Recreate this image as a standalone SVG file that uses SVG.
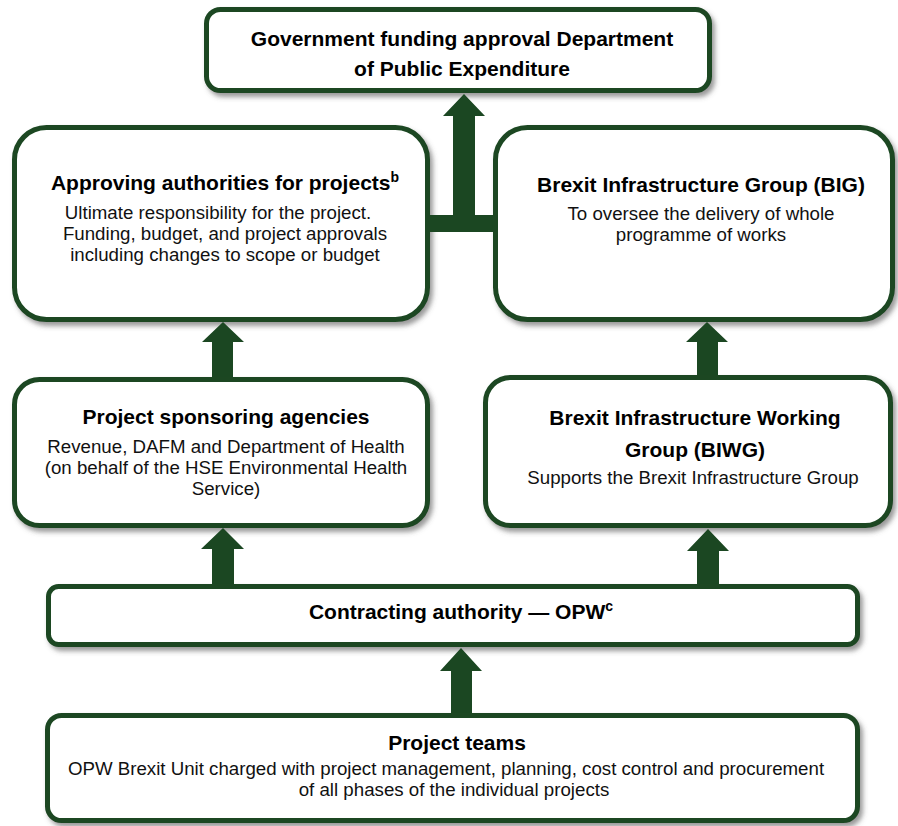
<svg xmlns="http://www.w3.org/2000/svg" width="898" height="826" viewBox="0 0 898 826">
  <defs>
    <filter id="shadow" x="-5%" y="-10%" width="115%" height="130%">
      <feDropShadow dx="3" dy="4" stdDeviation="2.5" flood-color="#555" flood-opacity="0.6"/>
    </filter>
    <style>
      .box { fill: #ffffff; stroke: #1b4722; stroke-width: 5; filter: url(#shadow); }
      .arrow { fill: #1b4722; }
      .title { font-family: "Liberation Sans", Arial, sans-serif; font-weight: bold; font-size: 21px; fill: #000; text-anchor: middle; }
      .body { font-family: "Liberation Sans", Arial, sans-serif; font-size: 18.7px; fill: #111; text-anchor: middle; }
      .sup { font-size: 14px; }
    </style>
  </defs>

  <rect width="898" height="826" fill="#ffffff"/>

  <!-- Nodes -->
  <g id="node-government">
    <rect class="box" x="206.5" y="9.5" width="503" height="81" rx="14"/>
    <text class="title" x="462" y="46">Government funding approval Department</text>
    <text class="title" x="462" y="76">of Public Expenditure</text>
  </g>

  <g id="node-approving">
    <rect class="box" x="14.5" y="127.5" width="413" height="192" rx="32"/>
    <text class="title" x="225" y="190">Approving authorities for projects<tspan class="sup" dy="-8">b</tspan></text>
    <text class="body" x="218" y="219">Ultimate responsibility for the project.</text>
    <text class="body" x="225" y="240">Funding, budget, and project approvals</text>
    <text class="body" x="225" y="261">including changes to scope or budget</text>
  </g>

  <g id="node-big">
    <rect class="box" x="495.5" y="127.5" width="397" height="192" rx="32"/>
    <text class="title" x="701" y="192">Brexit Infrastructure Group (BIG)</text>
    <text class="body" x="701" y="220">To oversee the delivery of whole</text>
    <text class="body" x="701" y="241">programme of works</text>
  </g>

  <g id="node-sponsoring">
    <rect class="box" x="14.5" y="379.5" width="413" height="146" rx="25"/>
    <text class="title" x="226" y="424">Project sponsoring agencies</text>
    <text class="body" x="226" y="453">Revenue, DAFM and Department of Health</text>
    <text class="body" x="226" y="474">(on behalf of the HSE Environmental Health</text>
    <text class="body" x="226" y="495">Service)</text>
  </g>

  <g id="node-biwg">
    <rect class="box" x="485.5" y="377.5" width="405" height="148" rx="25"/>
    <text class="title" x="695" y="425">Brexit Infrastructure Working</text>
    <text class="title" x="695" y="457">Group (BIWG)</text>
    <text class="body" x="693" y="484">Supports the Brexit Infrastructure Group</text>
  </g>

  <g id="node-contracting">
    <rect class="box" x="48.5" y="586.5" width="809" height="58" rx="10"/>
    <text class="title" x="461" y="619">Contracting authority — OPW<tspan class="sup" font-size="11" dy="-8">c</tspan></text>
  </g>

  <g id="node-teams">
    <rect class="box" x="47.5" y="715.5" width="810" height="105" rx="14"/>
    <text class="title" x="457" y="750">Project teams</text>
    <text class="body" x="446" y="775">OPW Brexit Unit charged with project management, planning, cost control and procurement</text>
    <text class="body" x="454" y="796">of all phases of the individual projects</text>
  </g>

  <!-- Connectors: block arrows pointing upward -->
  <g id="connectors">
    <!-- joint feed from the two upper boxes to the top box -->
    <rect class="arrow" x="430" y="215" width="64" height="17"/>
    <polygon class="arrow" points="453,216 453,116 443,116 464,94 485,116 475,116 475,216"/>
    <!-- sponsoring agencies to approving authorities -->
    <polygon class="arrow" points="212,377 212,342 202,342 223,322 244,342 233,342 233,377"/>
    <!-- BIWG to BIG -->
    <polygon class="arrow" points="697,375 697,342 686,342 707,322 728,342 718,342 718,375"/>
    <!-- contracting authority to sponsoring agencies -->
    <polygon class="arrow" points="212,584 212,549 201,549 223,528 244,549 234,549 234,584"/>
    <!-- contracting authority to BIWG -->
    <polygon class="arrow" points="697,584 697,551 687,551 708,529 729,551 719,551 719,584"/>
    <!-- project teams to contracting authority -->
    <polygon class="arrow" points="451,713 451,671 440,671 461,648 482,671 472,671 472,713"/>
  </g>
</svg>
